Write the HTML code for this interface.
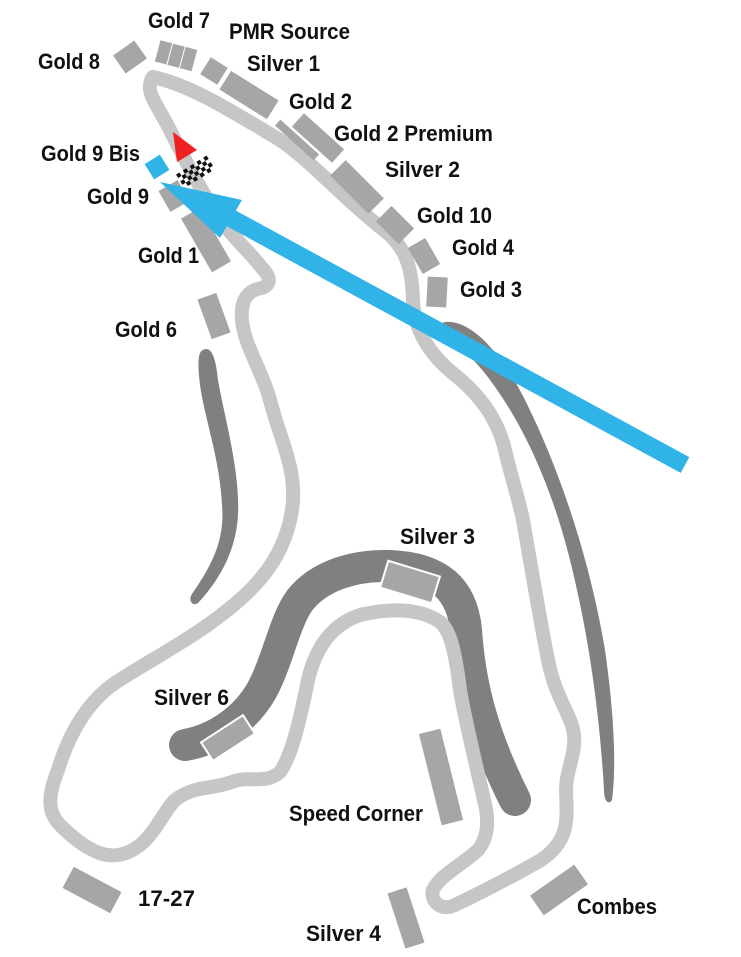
<!DOCTYPE html>
<html><head><meta charset="utf-8"><style>
html,body{margin:0;padding:0;background:#fff;}
svg{display:block;}
text{font-family:"Liberation Sans",sans-serif;font-weight:bold;font-size:22px;fill:#111;}
</style></head><body>
<svg width="741" height="957" viewBox="0 0 741 957" xmlns="http://www.w3.org/2000/svg">
<!-- dark gray blades -->
<path d="M203,350 C212,345 216,360 218,380 C225,420 240,470 238,515 C236,555 215,585 198,603 C192,607 188,600 192,594 C212,565 225,540 222,505 C220,460 205,420 200,385 C198,368 197,352 203,350 Z" fill="#808080"/>
<path d="M446,322 C470,320 500,350 525,400 C560,470 590,560 605,650 C615,720 616,770 612,800 C608,806 604,800 604,790 C600,720 590,640 570,560 C550,480 520,420 490,380 C470,352 448,340 442,330 C440,325 442,322 446,322 Z" fill="#808080"/>
<path d="M185,745 C215,740 245,720 262,690 C278,660 285,620 300,600 C320,575 355,565 390,566 C440,568 462,590 466,630 C470,690 485,740 515,800" fill="none" stroke="#808080" stroke-width="32" stroke-linecap="round"/>
<!-- track -->
<path d="M153,77 C190,85 230,110 280,140 C310,160 340,195 380,227 C405,245 412,265 413,300 C414,330 430,355 455,375 C480,395 498,420 505,450 C512,480 519,500 523,520 C530,560 540,620 548,660 C556,700 572,715 574,735 C576,755 566,770 566,790 C567,820 570,840 541,860 C515,875 480,893 455,905 C440,912 430,900 433,890 C440,875 462,865 478,850 C490,835 488,815 484,800 C475,760 465,720 460,690 C455,650 450,630 440,622 C420,608 390,608 360,615 C330,625 315,650 308,680 C300,720 292,755 280,772 C265,785 250,775 232,782 C210,790 195,785 175,800 C160,815 150,850 118,855 C100,858 80,845 60,825 C45,810 50,790 58,770 C70,730 90,700 115,683 C150,660 190,640 225,612 C260,585 285,555 292,510 C298,470 280,440 270,400 C262,370 244,345 242,320 C240,300 248,290 262,288 C270,285 272,278 262,268 C250,252 230,235 220,218 C200,190 185,160 170,130 C160,110 148,95 150,85 C151,80 152,77 153,77 Z" fill="none" stroke="#c6c6c6" stroke-width="14" stroke-linejoin="round"/>
<!-- gray boxes -->
<g fill="#a6a6a6">
<rect x="-13" y="-11" width="26" height="22" transform="translate(130,57) rotate(-35)"/>
<g transform="translate(177,56) rotate(15)">
<rect x="-20" y="-11" width="12" height="22"/><rect x="-7" y="-11" width="12" height="22"/><rect x="6" y="-11" width="12" height="22"/>
</g>
<rect x="-10" y="-10" width="20" height="20" transform="translate(214,71) rotate(32)"/>
<rect x="-28" y="-11" width="56" height="22" transform="translate(249,95) rotate(32)"/>
<rect x="-26" y="-4" width="52" height="8" transform="translate(297,140) rotate(42)"/>
<rect x="-27" y="-9" width="54" height="18" transform="translate(318,138) rotate(42)"/>
<rect x="-27" y="-11" width="54" height="22" transform="translate(357,187) rotate(45)"/>
<rect x="-16" y="-11" width="32" height="22" transform="translate(395,225) rotate(45)"/>
<rect x="-15" y="-10" width="30" height="20" transform="translate(424,256) rotate(60)"/>
<rect x="-10" y="-15" width="20" height="30" transform="translate(437,292) rotate(3)"/>
<rect x="-11" y="-12" width="22" height="24" transform="translate(174,196) rotate(-30)"/>
<rect x="-11" y="-31" width="22" height="62" transform="translate(206,240) rotate(-30)"/>
<rect x="-10" y="-21" width="20" height="42" transform="translate(214,316) rotate(-20)"/>
<rect x="-11" y="-47" width="22" height="94" transform="translate(441,777) rotate(-14)"/>
<rect x="-27" y="-12" width="54" height="24" transform="translate(92,890) rotate(28)"/>
<rect x="-10" y="-29" width="20" height="58" transform="translate(406,918) rotate(-18)"/>
<rect x="-27" y="-12" width="54" height="24" transform="translate(559,890) rotate(-35)"/>
</g>
<rect x="-27" y="-14" width="54" height="28" transform="translate(410,582) rotate(17)" fill="#a6a6a6" stroke="#fff" stroke-width="2"/>
<rect x="-25" y="-11" width="50" height="22" transform="translate(228,738) rotate(-33)" fill="#a6a6a6" stroke="#fff" stroke-width="2"/>
<!-- blue box -->
<rect x="-9" y="-9" width="18" height="18" transform="translate(157,167) rotate(-32)" fill="#30b4e8"/>
<!-- red triangle -->
<polygon points="173,132 197,150 177,162" fill="#ee2222"/>
<!-- checker -->
<g transform="translate(195,171) rotate(-32)" fill="#111">
<rect x="-18" y="-7" width="4" height="4"/><rect x="-10" y="-7" width="4" height="4"/><rect x="-2" y="-7" width="4" height="4"/><rect x="6" y="-7" width="4" height="4"/><rect x="14" y="-7" width="4" height="4"/>
<rect x="-14" y="-3" width="4" height="4"/><rect x="-6" y="-3" width="4" height="4"/><rect x="2" y="-3" width="4" height="4"/><rect x="10" y="-3" width="4" height="4"/>
<rect x="-18" y="1" width="4" height="4"/><rect x="-10" y="1" width="4" height="4"/><rect x="-2" y="1" width="4" height="4"/><rect x="6" y="1" width="4" height="4"/><rect x="14" y="1" width="4" height="4"/>
<rect x="-14" y="5" width="4" height="4"/><rect x="-6" y="5" width="4" height="4"/><rect x="2" y="5" width="4" height="4"/><rect x="10" y="5" width="4" height="4"/>
</g>
<!-- blue arrow -->
<line x1="685" y1="465" x2="225" y2="215" stroke="#30b4e8" stroke-width="18"/>
<polygon points="160,182 242,200 220,238" fill="#30b4e8"/>
<!-- labels -->
<text x="148" y="28" textLength="62" lengthAdjust="spacingAndGlyphs">Gold 7</text>
<text x="229" y="39" textLength="121" lengthAdjust="spacingAndGlyphs">PMR Source</text>
<text x="38" y="69" textLength="62" lengthAdjust="spacingAndGlyphs">Gold 8</text>
<text x="247" y="71" textLength="73" lengthAdjust="spacingAndGlyphs">Silver 1</text>
<text x="289" y="109" textLength="63" lengthAdjust="spacingAndGlyphs">Gold 2</text>
<text x="334" y="141" textLength="159" lengthAdjust="spacingAndGlyphs">Gold 2 Premium</text>
<text x="41" y="161" textLength="99" lengthAdjust="spacingAndGlyphs">Gold 9 Bis</text>
<text x="385" y="177" textLength="75" lengthAdjust="spacingAndGlyphs">Silver 2</text>
<text x="87" y="204" textLength="62" lengthAdjust="spacingAndGlyphs">Gold 9</text>
<text x="417" y="223" textLength="75" lengthAdjust="spacingAndGlyphs">Gold 10</text>
<text x="452" y="255" textLength="62" lengthAdjust="spacingAndGlyphs">Gold 4</text>
<text x="138" y="263" textLength="61" lengthAdjust="spacingAndGlyphs">Gold 1</text>
<text x="460" y="297" textLength="62" lengthAdjust="spacingAndGlyphs">Gold 3</text>
<text x="115" y="337" textLength="62" lengthAdjust="spacingAndGlyphs">Gold 6</text>
<text x="400" y="544" textLength="75" lengthAdjust="spacingAndGlyphs">Silver 3</text>
<text x="154" y="705" textLength="75" lengthAdjust="spacingAndGlyphs">Silver 6</text>
<text x="289" y="821" textLength="134" lengthAdjust="spacingAndGlyphs">Speed Corner</text>
<text x="138" y="906" textLength="57" lengthAdjust="spacingAndGlyphs">17-27</text>
<text x="306" y="941" textLength="75" lengthAdjust="spacingAndGlyphs">Silver 4</text>
<text x="577" y="914" textLength="80" lengthAdjust="spacingAndGlyphs">Combes</text>
</svg>
</body></html>
